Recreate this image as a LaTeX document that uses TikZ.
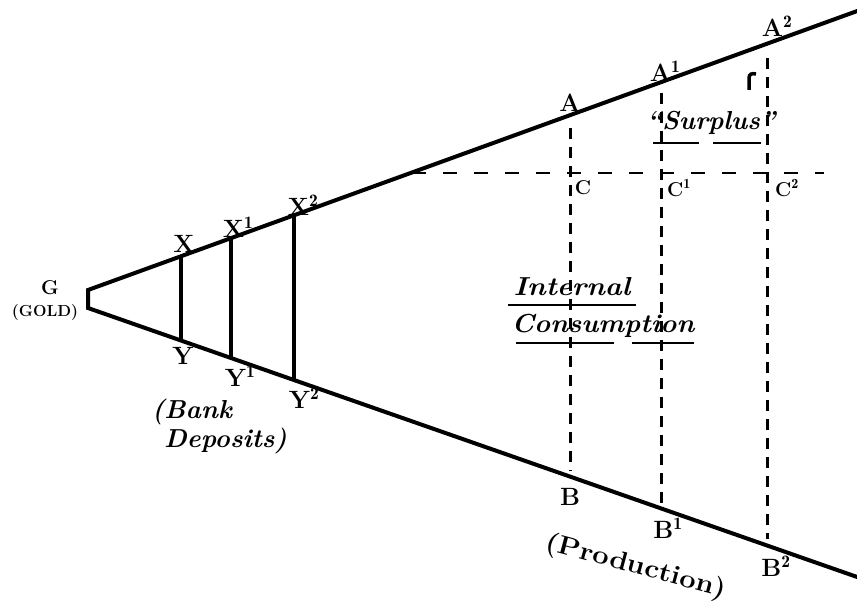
\documentclass[tikz,border=0pt]{standalone}
\usepackage{fontspec}
\begin{document}
\begin{tikzpicture}[x=1pt,y=-1pt,
  solidline/.style={line width=4pt,line cap=round,line join=miter},
  bar/.style={line width=3.4pt},
  vdash/.style={line width=3pt,dash pattern=on 11pt off 8pt},
  hdash/.style={line width=2.8pt,dash pattern=on 14pt off 17pt},
  uline/.style={line width=2pt},
  lbl/.style={inner sep=0pt,font=\fontsize{25}{27}\selectfont\bfseries},
  slbl/.style={inner sep=0pt,font=\fontsize{20}{22}\selectfont\bfseries},
  word/.style={inner sep=0pt,font=\fontsize{26}{28}\selectfont\bfseries\itshape}]
\useasboundingbox (0,0) rectangle (857,609);
% frame of the cone
\coordinate (G1) at (88,290);
\coordinate (G2) at (88,308);
\coordinate (Uend) at (860,10);
\coordinate (Lend) at (860,578);
\draw[solidline] (Uend) -- (G1) -- (G2) -- (Lend);
% bank deposit bars
\coordinate (Xp) at (181,256.3);  \coordinate (Yp) at (181,340.5);
\coordinate (X1p) at (231,238.1); \coordinate (Y1p) at (231,358.0);
\coordinate (X2p) at (294,215.3); \coordinate (Y2p) at (294,380.1);
\draw[bar] (Xp) -- (Yp);
\draw[bar] (X1p) -- (Y1p);
\draw[bar] (X2p) -- (Y2p);
% dashed verticals
\coordinate (Ad) at (570,128);  \coordinate (Bd) at (570,471);
\coordinate (A1d) at (661,93);  \coordinate (B1d) at (661,503);
\coordinate (A2d) at (767,58);  \coordinate (B2d) at (767,539);
\draw[vdash] (Ad) -- (Bd);
\draw[vdash] (A1d) -- (B1d);
\draw[vdash] (A2d) -- (B2d);
% dashed horizontal
\coordinate (Hs) at (412,173);
\coordinate (He) at (824,173);
\draw[hdash] (Hs) -- (He);
% small mark near A2
\coordinate (m1) at (749,90);
\coordinate (m2) at (749,78);
\coordinate (m3) at (756,74);
\draw[line width=3.5pt] (m1) -- (m2) .. controls (749,74) and (752,73) .. (m3);
% labels
\node[slbl] (G) at (50,288) {G};
\node[inner sep=0pt,font=\fontsize{16}{18}\selectfont\bfseries] (gold) at (45,313) {(GOLD)};
\node[lbl] (X) at (184,244) {X};
\node[lbl] (X1) at (238,227) {X$^{\mathbf 1}$};
\node[lbl] (X2) at (303,205) {X$^{\mathbf 2}$};
\node[lbl] (Y) at (183,356) {Y};
\node[lbl] (Y1) at (240,376) {Y$^{\mathbf 1}$};
\node[lbl] (Y2) at (304,398) {Y$^{\mathbf 2}$};
\node[word,anchor=west] (bank) at (152,412) {(Bank};
\node[word,anchor=west] (dep) at (164,441) {Deposits)};
\node[lbl] (A) at (570,103) {A};
\node[lbl] (A1) at (665,71) {A$^{\mathbf 1}$};
\node[lbl] (A2) at (777,26) {A$^{\mathbf 2}$};
\node[slbl] (C) at (583,188) {C};
\node[slbl] (C1) at (679,188) {C$^{\mathbf 1}$};
\node[slbl] (C2) at (787,188) {C$^{\mathbf 2}$};
\node[lbl] (B) at (570,497) {B};
\node[lbl] (B1) at (668,528) {B$^{\mathbf 1}$};
\node[lbl] (B2) at (776,566) {B$^{\mathbf 2}$};
\node[word] (surplus) at (711,123) {``Surplus''};
\node[word] (internal) at (572,287) {\scalebox{1.1}[1]{Internal}};
\node[word] (consumption) at (603,326) {\scalebox{1.05}[1]{Consumption}};
\node[inner sep=0pt,font=\fontsize{26}{28}\selectfont\bfseries,rotate=-15] (prod) at (636,567) {\scalebox{1.12}[1]{(Production)}};
% underlines
\coordinate (su1) at (653,143); \coordinate (su2) at (699,143);
\coordinate (su3) at (713,143); \coordinate (su4) at (761,143);
\draw[uline] (su1) -- (su2);
\draw[uline] (su3) -- (su4);
\coordinate (iu1) at (508,305); \coordinate (iu2) at (636,305);
\draw[uline] (iu1) -- (iu2);
\coordinate (cu1) at (516,343); \coordinate (cu2) at (614,343);
\coordinate (cu3) at (632,343); \coordinate (cu4) at (694,343);
\draw[uline] (cu1) -- (cu2);
\draw[uline] (cu3) -- (cu4);
\end{tikzpicture}
\end{document}
